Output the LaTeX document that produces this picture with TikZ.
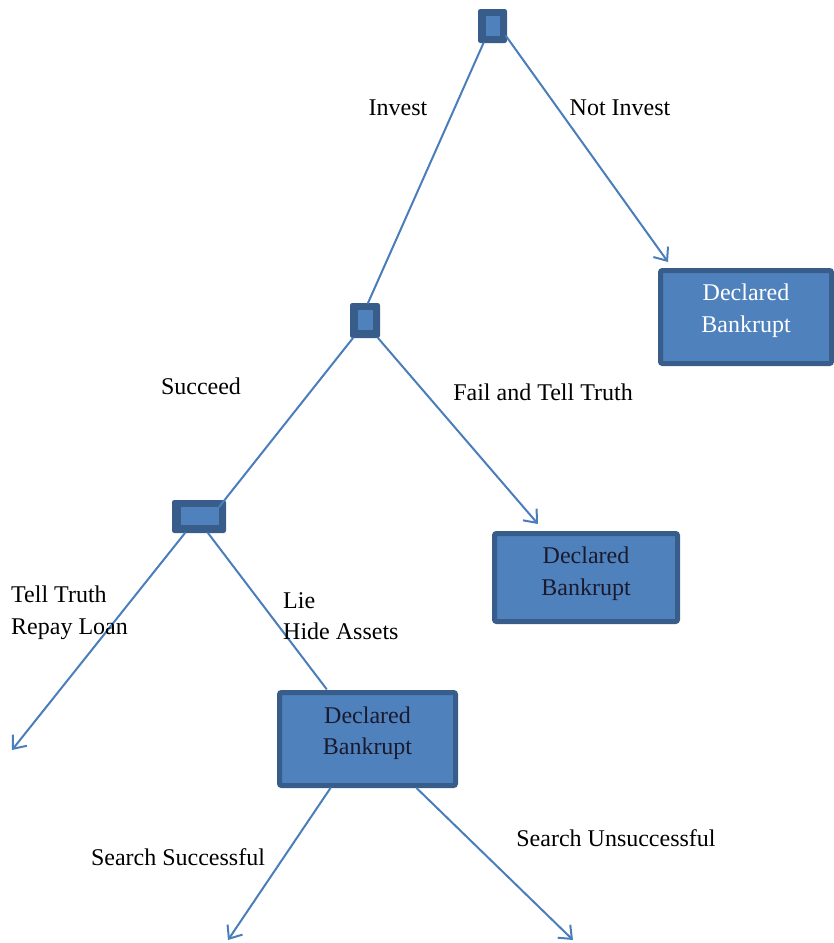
\documentclass[tikz,border=0pt]{standalone}
\usepackage{fontspec}
\setmainfont{Liberation Serif}
\usetikzlibrary{arrows.meta}
\definecolor{boxfill}{HTML}{4F81BD}
\definecolor{boxedge}{HTML}{385D8A}
\definecolor{linecol}{HTML}{4A7EBB}
\definecolor{darktxt}{HTML}{1A1A2E}
\begin{document}
\begin{tikzpicture}[x=1pt,y=-1pt,
  every node/.style={font=\fontsize{24}{31.5}\selectfont},
  outerdec/.style={draw=boxedge,fill=boxedge,line width=1pt,rounded corners=2pt,inner sep=0pt},
  innerdec/.style={fill=boxfill,inner sep=0pt,minimum width=#1},
  bankbox/.style={draw=boxedge,fill=boxfill,line width=5pt,rounded corners=2pt,inner sep=0pt},
  boxtext/.style={align=center,inner sep=0pt},
  conn/.style={draw=linecol,line width=2pt,line cap=round},
  arr/.style={conn,-{Straight Barb[length=11pt,width=18pt,line width=2pt]}},
  lbl/.style={text=black}]
\useasboundingbox (0,0) rectangle (834,943);
% decision nodes
\node[outerdec,minimum width=28pt,minimum height=33pt] (n1) at (492.5,26) {};
\node[innerdec=14pt,minimum height=20pt] (n1in) at (492.5,25.5) {};
\node[outerdec,minimum width=29pt,minimum height=34pt] (n2) at (365,320.5) {};
\node[innerdec=15pt,minimum height=20pt] (n2in) at (365,320) {};
\node[outerdec,minimum width=53pt,minimum height=32pt] (n3) at (199,516.5) {};
% boxes
\node[bankbox,minimum width=171pt,minimum height=93pt] (b1) at (746,317) {};
\node[boxtext,text=white] (t1) at ([yshift=6.5pt]b1.center) {Declared\\Bankrupt};
\node[bankbox,minimum width=183pt,minimum height=88pt] (b2) at (586,577.5) {};
\node[boxtext,text=darktxt] (t2) at ([yshift=4pt]b2.center) {Declared\\Bankrupt};
\node[bankbox,minimum width=176pt,minimum height=93pt] (b3) at (367.5,739) {};
\node[boxtext,text=darktxt] (t3) at ([yshift=6pt]b3.center) {Declared\\Bankrupt};
% free ends
\coordinate (e1) at (668,262);
\coordinate (e2) at (538,524);
\coordinate (e3) at (12,750);
\coordinate (e4) at (228,940);
\coordinate (e5) at (573,940);
% connectors
\draw[conn] ([xshift=-9pt]n1.south) -- ([xshift=3pt]n2.north);
\draw[arr] ([xshift=-1pt,yshift=-10pt]n1.east) -- (e1);
\node[innerdec=38pt,minimum height=18pt] (n3in) at (200,516) {};
\draw[conn] ([xshift=-12pt]n2.south) -- (n3in.north east);
\draw[arr] ([xshift=13pt]n2.south) -- (e2);
\draw[arr] ([xshift=-14pt]n3.south) -- (e3);
\draw[conn] ([xshift=9pt]n3.south) -- ([xshift=-41pt,yshift=1pt]b3.north);
\draw[arr] ([xshift=-37pt]b3.south) -- (e4);
\draw[arr] ([xshift=49pt]b3.south) -- (e5);
% labels
\node[lbl] (l1) at (398,108) {Invest};
\node[lbl] (l2) at (620,108) {Not Invest};
\node[lbl] (l3) at (201,386) {Succeed};
\node[lbl] (l4) at (543,392) {Fail and Tell Truth};
\node[lbl,align=left,anchor=west,inner sep=0pt] (l5) at (11,613) {Tell Truth\\Repay Loan};
\node[lbl,align=left,anchor=west,inner sep=0pt] (l6) at (283,616) {Lie\\Hide Assets};
\node[lbl] (l7) at (178,857) {Search Successful};
\node[lbl] (l8) at (616,838) {Search Unsuccessful};
\end{tikzpicture}
\end{document}
